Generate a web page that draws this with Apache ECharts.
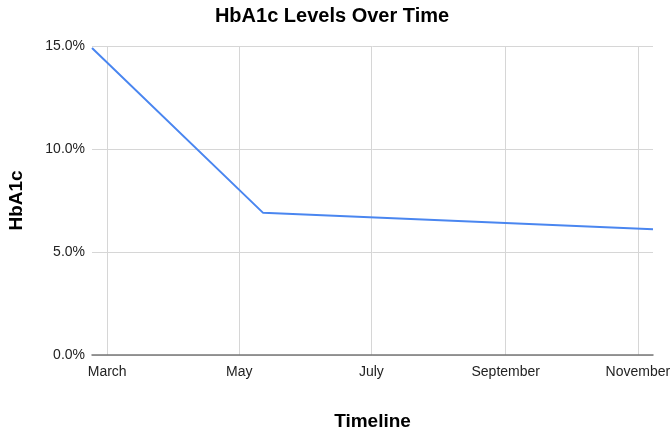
<!DOCTYPE html>
<html>
<head>
<meta charset="utf-8">
<script src="https://cdn.jsdelivr.net/npm/echarts@6/dist/echarts.min.js"></script>
<style>html,body{margin:0;padding:0;background:#fff}#c{width:672px;height:430px}</style>
</head>
<body>
<div id="c"></div>
<script>
var dates = ['2023-02-22', '2023-05-12', '2023-11-08'];
var hba1c = [14.9, 6.9, 6.1];
var tickDates = ['2023-03-01', '2023-05-01', '2023-07-01', '2023-09-01', '2023-11-01'];
var tickLabels = ['March', 'May', 'July', 'September', 'November'];
var yTicks = [0, 5, 10, 15];

var ts = function (s) { return new Date(s + 'T00:00:00Z').getTime(); };
var tickTs = tickDates.map(ts);
var data = dates.map(function (d, i) { return [ts(d), hba1c[i]]; });

var chart = echarts.init(document.getElementById('c'), null, { renderer: 'canvas' });
chart.setOption({
  animation: false,
  textStyle: { fontFamily: 'Liberation Sans, Arial, sans-serif' },
  title: {
    text: 'HbA1c Levels Over Time',
    left: 327, textAlign: 'center', top: 1,
    textStyle: { fontSize: 20, fontWeight: 'bold', color: '#000', fontFamily: 'Liberation Sans, Arial, sans-serif' }
  },
  grid: { left: 92, right: 19, top: 46, bottom: 75, containLabel: false, outerBoundsMode: 'none' },
  xAxis: {
    type: 'value',
    min: ts(dates[0]), max: ts(dates[dates.length - 1]),
    name: 'Timeline', nameLocation: 'middle', nameGap: 57,
    nameTextStyle: { fontSize: 19, fontWeight: 'bold', color: '#000' },
    axisLine: { show: true, lineStyle: { color: '#777', width: 1.5 } },
    axisTick: { show: false, customValues: tickTs },
    axisLabel: {
      customValues: tickTs, color: '#222', fontSize: 14, margin: 10, hideOverlap: false,
      formatter: function (v) { var i = tickTs.indexOf(v); return i >= 0 ? tickLabels[i] : ''; }
    },
    splitLine: { show: true, lineStyle: { color: '#d6d6d6', width: 1 } }
  },
  yAxis: {
    type: 'value', min: 0, max: 15, interval: 5,
    name: 'HbA1c', nameLocation: 'middle', nameGap: 66, nameRotate: 90,
    nameTextStyle: { fontSize: 19, fontWeight: 'bold', color: '#000' },
    axisLine: { show: false }, axisTick: { show: false },
    axisLabel: { color: '#222', fontSize: 14, margin: 7, formatter: function (v) { return v.toFixed(1) + '%'; } },
    splitLine: { lineStyle: { color: '#d6d6d6', width: 1 } }
  },
  series: [{
    type: 'line', data: data, showSymbol: false, symbol: 'none',
    lineStyle: { color: '#4a86f0', width: 2 }, itemStyle: { color: '#4a86f0' }
  }]
});
</script>
</body>
</html>
